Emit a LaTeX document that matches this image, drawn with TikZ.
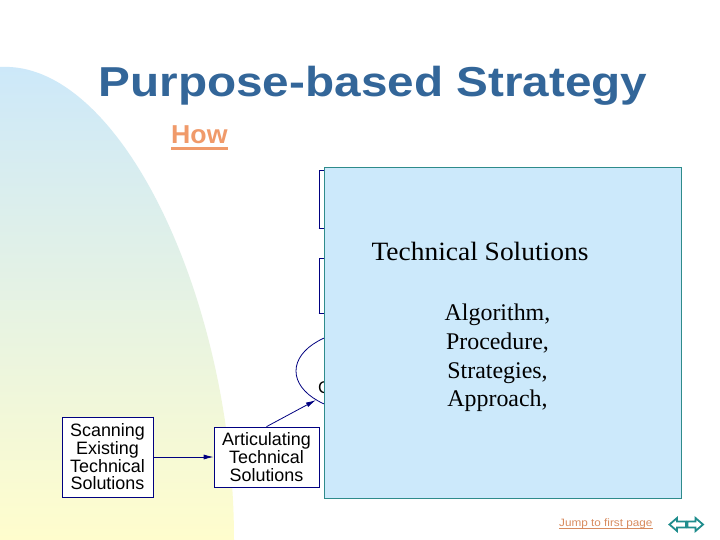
\documentclass[tikz,border=0pt]{standalone}
\usepackage{fontspec}
\usepackage{graphicx}
\setmainfont{Liberation Serif}
\newfontfamily\arial{Liberation Sans}
\usetikzlibrary{shapes.geometric,arrows.meta}
\definecolor{titleblue}{RGB}{51,102,153}
\definecolor{salmon}{RGB}{240,154,106}
\definecolor{navyln}{RGB}{0,0,128}
\definecolor{bigfill}{RGB}{204,233,251}
\definecolor{bigedge}{RGB}{46,139,139}
\definecolor{navteal}{RGB}{30,140,140}
\definecolor{gtop}{RGB}{204,232,250}
\definecolor{gmid}{RGB}{226,243,232}
\definecolor{gbot}{RGB}{255,253,205}
\tikzset{
  flowbox/.style={draw=navyln, line width=0.7bp, fill=white, inner sep=0pt, align=center,
    font=\arial\fontsize{18}{17.7}\selectfont},
  hiddenbox/.style={draw=navyln, line width=0.7bp, fill=white, inner sep=0pt},
  arr/.style={draw=navyln, line width=0.8bp, -{Latex[length=10bp,width=5bp]}},
  serifline/.style={anchor=base, font=\fontsize{24}{24}\selectfont},
}
\begin{document}
\begin{tikzpicture}[x=1bp,y=-1bp]
\useasboundingbox (0,0) rectangle (720,540);
\fill[white] (0,0) rectangle (720,540);
% background curved gradient
\shade[top color=gtop, middle color=gmid, bottom color=gbot]
  (0,67) .. controls (120,60) and (234,300) .. (234,540) -- (0,540) -- cycle;
% title
\node[anchor=base, text=titleblue, inner sep=0pt] (title) at (373,97)
  {\scalebox{1.14}[1]{\arial\bfseries\fontsize{42}{42}\selectfont Purpose-based Strategy}};
\node[anchor=base west, text=salmon, inner sep=0pt] (how) at (171,144)
  {\scalebox{1.03}[1]{\arial\bfseries\fontsize{26}{26}\selectfont How}};
\draw[salmon, line width=2.6bp] ([yshift=-4.7bp]how.base west) -- ([yshift=-4.7bp]how.base east);
% hidden boxes behind the big box
\node[hiddenbox, minimum width=101bp, minimum height=58bp] (box1) at (369.5,199) {};
\node[hiddenbox, minimum width=101bp, minimum height=55bp] (box2) at (369.5,285.5) {};
\draw[navyln, line width=1.4bp] (box1.south west) -- (box1.south east);
\draw[navyln, line width=1.4bp] (box2.south west) -- (box2.south east);
\node[draw=navyln, line width=0.8bp, ellipse, minimum width=148bp, minimum height=84bp, inner sep=0pt] (ell) at (370,371) {};
\node[anchor=base west, inner sep=0pt, font=\arial\fontsize{17}{17}\selectfont] (ctext) at (318,393.5) {C};
% left boxes
\node[flowbox, minimum width=91bp, minimum height=80bp] (scan) at (107.5,457)
  {Scanning\\Existing\\Technical\\Solutions};
\draw[navyln, line width=1.5bp] (scan.north east) -- (scan.south east) -- (scan.south west);
\node[flowbox, minimum width=105bp, minimum height=60bp] (artic) at (266.5,457)
  {Articulating\\Technical\\Solutions};
\draw[arr] (scan.east) -- (artic.west);
\draw[arr] (artic.north) -- (ell);
% big overlay box
\node[draw=bigedge, fill=bigfill, line width=1bp, minimum width=357bp, minimum height=330.5bp, inner sep=0pt] (big) at (503,333.25) {};
\node[anchor=base, inner sep=0pt] (tsol) at (480,260.7)
  {\scalebox{1.04}[1]{\fontsize{26.5}{26.5}\selectfont Technical Solutions}};
\node[serifline, inner sep=0pt] (alg) at (497.5,320) {Algorithm,};
\node[serifline, inner sep=0pt] (proc) at (497.5,349.3) {Procedure,};
\node[serifline, inner sep=0pt] (strat) at (497.5,378.3) {Strategies,};
\node[serifline, inner sep=0pt] (appr) at (497.5,406.7) {Approach,};
% footer link
\node[anchor=base west, text=salmon!90!black, inner sep=0pt] (jump) at (559,526)
  {\scalebox{1.1}[1]{\arial\fontsize{10.7}{10.7}\selectfont Jump to first page}};
\draw[salmon!90!black, line width=0.8bp] ([yshift=-2.5bp]jump.base west) -- ([yshift=-2.5bp]jump.base east);
% navigation arrows
\draw[navteal, line width=1.8bp, line join=miter]
  (669.5,524.5) -- (677,518) -- (677,521.5) -- (686,521.5) -- (686,527.5) -- (677,527.5) -- (677,531) -- cycle;
\draw[navteal, line width=1.8bp, line join=miter]
  (703,524.5) -- (695.5,518) -- (695.5,521.5) -- (687.5,521.5) -- (687.5,527.5) -- (695.5,527.5) -- (695.5,531) -- cycle;
\end{tikzpicture}
\end{document}
